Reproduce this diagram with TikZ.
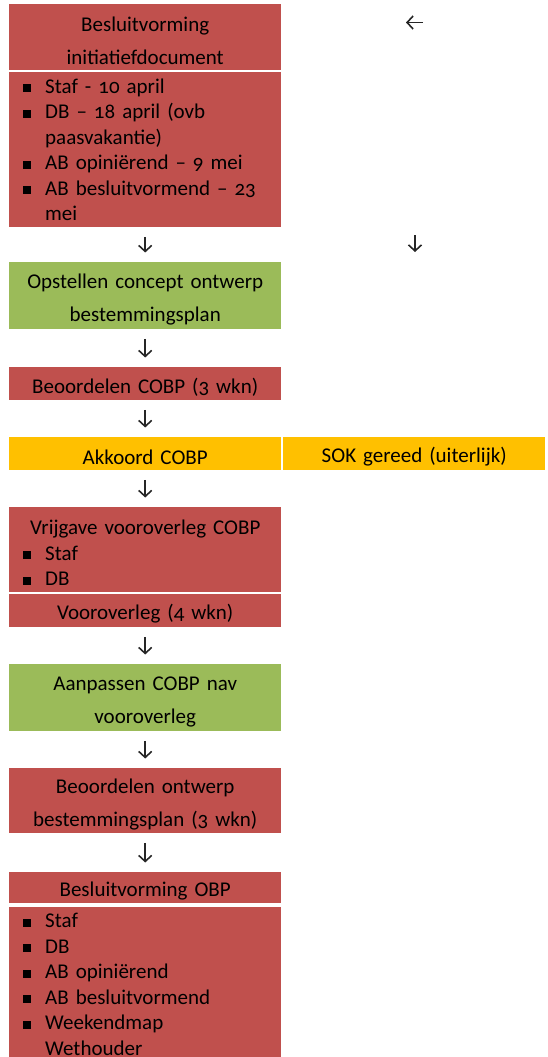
\documentclass[tikz,border=0pt]{standalone}
\usepackage{fontspec}
\setmainfont{Carlito}[Numbers=OldStyle]
\usetikzlibrary{positioning,arrows.meta}

\definecolor{cobpred}{HTML}{C0504D}
\definecolor{cobpgreen}{HTML}{9BBB59}
\definecolor{cobporange}{HTML}{FFC000}

\newcommand\bul{\makebox[36pt][l]{\hspace{13.5pt}\rule[1pt]{8pt}{8pt}}}
\newcommand\cont{\hspace*{36pt}}

\tikzset{
  cell/.style={anchor=north west, inner sep=0pt, minimum width=272pt, text width=272pt},
  box/.style={cell, align=center, font=\fontsize{21}{33}\selectfont,
    execute at begin node=\rule{0pt}{22pt}},
  redbox/.style={box, fill=cobpred},
  greenbox/.style={box, fill=cobpgreen},
  orangebox/.style={box, fill=cobporange},
  listbox/.style={cell, fill=cobpred, align=left, font=\fontsize{21}{25.5}\selectfont},
  tip/.style={-{Straight Barb[length=6pt,width=13pt]}, line width=1.6pt, black!85},
  flow/.style={tip, shorten <=9.5pt, shorten >=9.5pt}
}

\begin{document}
\begin{tikzpicture}[x=1pt, y=-1pt]
  \useasboundingbox (0,0) rectangle (548,1057);

  % linker kolom
  \node[redbox, minimum height=66pt]   (init-head) at (9,4)   {Besluitvorming\\initiatiefdocument};
  \node[listbox, minimum height=155pt] (init-list) at (9,72)  {\bul Staf - 10 april\\
    \bul DB -- 18 april (ovb\\ \cont paasvakantie)\\ \bul AB opiniërend -- 9 mei\\
    \bul AB besluitvormend -- 23\\ \cont mei};
  \node[greenbox, minimum height=67pt] (concept)   at (9,262) {Opstellen concept ontwerp\\bestemmingsplan};
  \node[redbox, minimum height=33pt]   (cobp-beo)  at (9,367) {Beoordelen COBP (3 wkn)};
  \node[orangebox, minimum height=33pt] (akkoord)  at (9,437) {Akkoord COBP};
  \node[listbox, minimum height=85pt]  (vrijgave)  at (9,507) {\makebox[272pt]{\rule{0pt}{21pt}Vrijgave vooroverleg COBP}\\
    \bul Staf\\ \bul DB};
  \node[redbox, minimum height=33pt]   (overleg)   at (9,594) {Vooroverleg (4 wkn)};
  \node[greenbox, minimum height=67pt] (aanpassen) at (9,664) {Aanpassen COBP nav\\vooroverleg};
  \node[redbox, minimum height=65pt]   (obp-beo)   at (9,768) {Beoordelen ontwerp\\bestemmingsplan (3 wkn)};
  \node[redbox, minimum height=31pt]   (obp-head)  at (9,872) {Besluitvorming OBP};
  \node[listbox, minimum height=154pt] (obp-list)  at (9,907) {\bul Staf\\ \bul DB\\
    \bul AB opiniërend\\ \bul AB besluitvormend\\ \bul Weekendmap\\ \cont Wethouder};

  % rechter kolom
  \node[orangebox, minimum width=262pt, text width=262pt, minimum height=33pt] (sok) at (283,437) {SOK gereed (uiterlijk)};
  \coordinate (back-from) at (423,22.5);
  \coordinate (back-to)   at (406,22.5);
  \coordinate (sok-from)  at (415,235);
  \coordinate (sok-to)    at (415,252);

  \draw[flow] (init-list) -- (concept);
  \draw[flow] (concept)   -- (cobp-beo);
  \draw[flow] (cobp-beo)  -- (akkoord);
  \draw[flow] (akkoord)   -- (vrijgave);
  \draw[flow] (overleg)   -- (aanpassen);
  \draw[flow] (aanpassen) -- (obp-beo);
  \draw[flow] (obp-beo)   -- (obp-head);
  \draw[tip] (back-from) -- (back-to);
  \draw[tip] (sok-from)  -- (sok-to);
\end{tikzpicture}
\end{document}
